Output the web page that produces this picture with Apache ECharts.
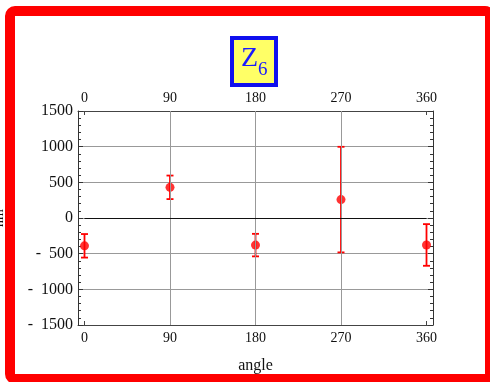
<!DOCTYPE html>
<html>
<head>
<meta charset="utf-8">
<script src="https://cdn.jsdelivr.net/npm/echarts@6/dist/echarts.min.js"></script>
<style>
  html, body { margin: 0; padding: 0; background: #fff; }
  #chart { width: 490px; height: 382px; }
</style>
</head>
<body>
<div id="chart"></div>
<script>
// Measured coefficient vs. rotation angle, with symmetric uncertainties
var angles = [0, 90, 180, 270, 360];
var values = [-390, 430, -380, 258, -378];
var errors = [165, 165, 158, 740, 292];
var gridAngles = [90, 180, 270];

var serif = '"Liberation Serif", "Times New Roman", serif';

var points = angles.map(function (a, i) { return [a, values[i]]; });
var bars = angles.map(function (a, i) { return [a, values[i] - errors[i], values[i] + errors[i]]; });

var frame = { left: 78, top: 111, width: 355, height: 214 };
// the data area sits slightly inside the frame so that 0 and 360 clear the borders
var inner = { left: 84.5, top: 111, width: 342, height: 214 };

// Frame axes: border lines, y labels, y grid and minor ticks
function frameX(pos) {
  return {
    type: 'value', gridIndex: 0, position: pos, min: 0, max: 1,
    axisLine: { show: true, onZero: false, lineStyle: { color: '#444', width: 1 } },
    axisTick: { show: false }, axisLabel: { show: false }, splitLine: { show: false }
  };
}
function frameY(pos) {
  return {
    type: 'value', gridIndex: 0, position: pos,
    min: -1500, max: 1500, interval: 500,
    name: pos === 'left' ? 'nm' : '',
    nameLocation: 'middle', nameRotate: 90, nameGap: 72,
    nameTextStyle: { fontFamily: serif, fontSize: 14, color: '#111' },
    axisLine: { show: true, onZero: false, lineStyle: { color: '#333', width: 1 } },
    axisTick: { show: true, inside: true, length: 5, lineStyle: { color: '#333' } },
    minorTick: { show: true, splitNumber: 5, length: 3, lineStyle: { color: '#333' } },
    axisLabel: {
      show: pos === 'left', margin: 5, fontFamily: serif, fontSize: 16, color: '#111',
      formatter: function (v) { return v < 0 ? '-  ' + Math.abs(v) : String(v); }
    },
    splitLine: { show: pos === 'left', lineStyle: { color: '#999', width: 1 } }
  };
}
// Data axes: angle scale with labels at top and bottom
function dataX(pos) {
  return {
    type: 'value', gridIndex: 1, position: pos, min: 0, max: 360, interval: 90,
    name: pos === 'bottom' ? 'angle' : '',
    nameLocation: 'middle', nameGap: 33,
    nameTextStyle: { fontFamily: serif, fontSize: 16, color: '#111' },
    axisLine: { show: false, onZero: false },
    axisTick: { show: true, inside: true, length: 4, lineStyle: { color: '#444' } },
    axisLabel: { margin: 6, fontFamily: serif, fontSize: 14, color: '#111' },
    splitLine: { show: false }
  };
}

var chart = echarts.init(document.getElementById('chart'), null, { renderer: 'canvas' });
chart.setOption({
  backgroundColor: '#fff',
  animation: false,
  title: {
    text: '{z|Z}{s|6}',
    left: 232,
    top: 34,
    backgroundColor: '#ffff66',
    borderColor: '#1010ee',
    borderWidth: 4,
    padding: [7, 9, 5, 9],
    textStyle: {
      rich: {
        z: { fontFamily: serif, fontSize: 28, fontWeight: 'normal', color: '#1a1aff', lineHeight: 32, verticalAlign: 'bottom' },
        s: { fontFamily: serif, fontSize: 19, fontWeight: 'normal', color: '#1a1aff', lineHeight: 32, verticalAlign: 'bottom', padding: [0, 0, -7, 0] }
      }
    }
  },
  grid: [
    Object.assign({ containLabel: false, outerBoundsMode: 'none' }, frame),
    Object.assign({ containLabel: false, outerBoundsMode: 'none' }, inner)
  ],
  xAxis: [frameX('bottom'), frameX('top'), dataX('bottom'), dataX('top')],
  yAxis: [
    frameY('left'),
    frameY('right'),
    { type: 'value', gridIndex: 1, min: -1500, max: 1500, show: false }
  ],
  series: [
    {
      // vertical grid lines and the zero line
      type: 'line',
      xAxisIndex: 2,
      yAxisIndex: 2,
      data: [],
      z: 1,
      silent: true,
      markLine: {
        silent: true,
        symbol: 'none',
        label: { show: false },
        lineStyle: { color: '#999', width: 1, type: 'solid' },
        data: gridAngles.map(function (a) { return { xAxis: a }; }).concat([
          { yAxis: 0, lineStyle: { color: '#111', width: 1.2 } }
        ])
      }
    },
    {
      type: 'custom',
      xAxisIndex: 2,
      yAxisIndex: 2,
      data: bars,
      z: 3,
      renderItem: function (params, api) {
        var lo = api.coord([api.value(0), api.value(1)]);
        var hi = api.coord([api.value(0), api.value(2)]);
        var cap = 3.5;
        var style = { stroke: '#ff0000', lineWidth: 1.8 };
        return {
          type: 'group',
          children: [
            { type: 'line', shape: { x1: lo[0], y1: lo[1], x2: hi[0], y2: hi[1] }, style: style },
            { type: 'line', shape: { x1: lo[0] - cap, y1: lo[1], x2: lo[0] + cap, y2: lo[1] }, style: style },
            { type: 'line', shape: { x1: hi[0] - cap, y1: hi[1], x2: hi[0] + cap, y2: hi[1] }, style: style }
          ]
        };
      }
    },
    {
      type: 'scatter',
      xAxisIndex: 2,
      yAxisIndex: 2,
      data: points,
      symbol: 'circle',
      symbolSize: 9,
      z: 4,
      itemStyle: { color: '#ff0000' }
    }
  ],
  graphic: [
    {
      type: 'rect',
      z: 100,
      silent: true,
      shape: { x: 10, y: 11, width: 480, height: 368, r: 5 },
      style: { fill: 'none', stroke: '#ff0000', lineWidth: 10 }
    }
  ]
});
</script>
</body>
</html>
